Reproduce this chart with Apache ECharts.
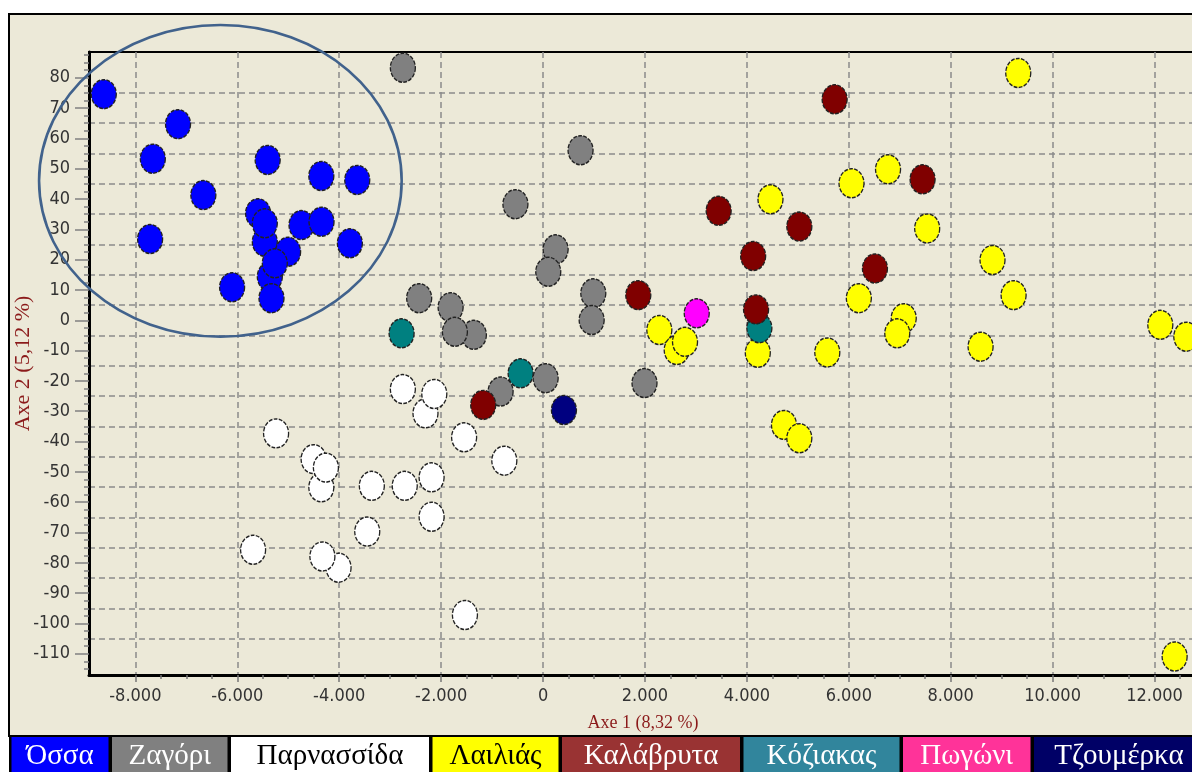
<!DOCTYPE html>
<html>
<head>
<meta charset="utf-8">
<script src="https://cdn.jsdelivr.net/npm/echarts@6/dist/echarts.min.js"></script>
<style>
html,body{margin:0;padding:0;background:#fff;}
#c{width:1192px;height:772px;}
</style>
</head>
<body>
<div id="c"></div>
<script>
// ---------- data ----------
const groups = ['Όσσα','Ζαγόρι','Παρνασσίδα','Λαιλιάς','Καλάβρυτα','Κόζιακας','Πωγώνι','Τζουμέρκα'];
const ossa = [[-8620,74.6],[-7163,64.7],[-7658,53.3],[-6666,41.3],[-7711,26.8],[-5404,52.9],[-4351,47.6],[-3646,46.3],[-5592,35.3],[-5460,25.9],[-5460,32.0],[-4740,31.4],[-4347,32.5],[-3791,25.4],[-5362,14.4],[-5003,22.6],[-5264,18.8],[-6102,10.9],[-5329,7.3]];
const zagori = [[-2751,83.3],[736,56.1],[-542,38.3],[247,23.4],[102,16.0],[-2431,7.3],[-1814,4.3],[-1357,-4.8],[-1730,-3.8],[986,8.9],[954,0.1],[51,-19.1],[-833,-23.5],[1991,-20.7]];
const parnassida = [[-2751,-22.7],[-2307,-30.7],[-2134,-24.3],[-1549,-38.6],[-760,-46.3],[-5239,-37.3],[-4502,-45.8],[-4351,-55.1],[-4261,-48.6],[-3360,-54.6],[-2714,-54.6],[-2187,-51.8],[-2187,-64.8],[-3450,-69.7],[-5690,-75.7],[-4013,-81.6],[-4330,-77.9],[-1533,-97.2]];
const lailias = [[9325,81.6],[6770,49.8],[6053,45.2],[4463,39.9],[7538,30.3],[8820,19.9],[9234,8.3],[6197,7.3],[7078,0.7],[6951,-4.3],[2282,-3.2],[2623,-9.8],[2786,-7.1],[4214,-10.7],[5578,-10.6],[8586,-8.7],[12113,-1.5],[12623,-5.4],[4728,-34.5],[5029,-38.9],[12394,-110.9]];
const kalavryta = [[-1174,-27.9],[5722,72.9],[3446,36.1],[5029,30.9],[7448,46.5],[4123,21.2],[6513,17.1],[1869,8.3],[4180,3.6]];
const koziakas = [[-2776,-4.3],[-440,-17.5],[4245,-2.6]];
const pogoni = [[3016,2.3]];
const tzoumerka = [[410,-29.6]];

const xTicks = [-8000,-6000,-4000,-2000,0,2000,4000,6000,8000,10000,12000];
const yTicks = [-110,-100,-90,-80,-70,-60,-50,-40,-30,-20,-10,0,10,20,30,40,50,60,70,80];
const yGridLines = [-105,-95,-85,-75,-65,-55,-45,-35,-25,-15,-5,5,15,25,35,45,55,65,75];
const xTitle = 'Axe 1 (8,32 %)';
const yTitle = 'Axe 2 (5,12 %)';
// highlighted group (ellipse) in data units: centre x, centre y, radius x, radius y
const ring = [-6332, 46.0, 3558, 51.4];

// ---------- styling ----------
const markerColors = ['#0000FF','#808080','#FFFFFF','#FFFF00','#800000','#008080','#FF00FF','#000080'];
const legendBg = ['#0000FF','#808080','#FFFFFF','#FFFF00','#993333','#31859C','#FF3399','#000066'];
const legendFg = ['#FFFFFF','#FFFFFF','#000000','#000000','#FFFFFF','#FFFFFF','#FFFFFF','#FFFFFF'];
const legendBoxW = [97, 115.5, 198, 126, 178, 156, 127.5, 170];
const groupData = [ossa, zagori, parnassida, lailias, kalavryta, koziakas, pogoni, tzoumerka];
const drawOrder = [0,1,2,3,5,4,6,7];

const xMinor = []; for (let v = -7500; v <= 12500; v += 500) if (v % 2000 !== 0) xMinor.push(v);
const yMinor = []; for (let v = -115; v <= 87.5; v += 2.5) if (Math.abs(v % 10) > 1e-9) yMinor.push(v);

function fmt(v) {
  const s = Math.abs(Math.round(v)).toString().replace(/\B(?=(\d{3})+(?!\d))/g, '.');
  return (v < 0 ? '-' : '') + s;
}

const X0 = -8910, X1 = 12833, Y0 = -117, Y1 = 88.5;
const tickFont = "'Liberation Sans Narrow', 'DejaVu Sans Condensed', 'Liberation Sans', sans-serif";
const serif = "'Liberation Serif', 'DejaVu Serif', serif";

const chart = echarts.init(document.getElementById('c'), null, {renderer: 'canvas', width: 1192, height: 772});

const series = drawOrder.map(i => ({
  name: groups[i],
  type: 'scatter',
  xAxisIndex: 0, yAxisIndex: 0,
  data: groupData[i],
  symbol: 'circle',
  symbolSize: [25, 29],
  itemStyle: {color: markerColors[i], borderColor: '#222', borderWidth: 1.4, borderType: [4, 1.5], opacity: 1},
  emphasis: {disabled: true}
}));

const rich = {};
groups.forEach((g, i) => {
  rich['g' + i] = {
    width: legendBoxW[i], height: 38, lineHeight: 38, align: 'center', verticalAlign: 'top',
    backgroundColor: legendBg[i], color: legendFg[i],
    fontFamily: serif, fontSize: 29
  };
});

const option = {
  animation: false,
  backgroundColor: '#FFFFFF',
  grid: {left: 89, top: 52, width: 1108, height: 623, outerBoundsMode: 'none', containLabel: false,
         show: true, backgroundColor: '#ECE9D8', borderColor: '#000', borderWidth: 2},
  xAxis: [
    {
      type: 'value', min: X0, max: X1, position: 'bottom',
      axisLine: {onZero: false, lineStyle: {color: '#000', width: 3}},
      axisTick: {customValues: xTicks, length: 7, lineStyle: {color: '#777', width: 1.5}},
      axisLabel: {customValues: xTicks, formatter: fmt, margin: 12, color: '#333', fontFamily: tickFont, fontSize: 18},
      splitLine: {show: true, lineStyle: {color: '#8a8a8a', type: [6, 4], width: 1.5}},
      name: xTitle, nameLocation: 'middle', nameGap: 39, nameMoveOverlap: false,
      nameTextStyle: {color: '#8B1A1A', fontFamily: serif, fontSize: 18}
    },
    {
      type: 'value', min: X0, max: X1, position: 'bottom',
      axisLine: {show: false, onZero: false},
      axisTick: {customValues: xMinor, length: 4, lineStyle: {color: '#777', width: 1.5}},
      axisLabel: {show: false}, splitLine: {show: false}
    }
  ],
  yAxis: [
    {
      type: 'value', min: Y0, max: Y1, position: 'left',
      axisLine: {onZero: false, lineStyle: {color: '#000', width: 3}},
      axisTick: {customValues: yTicks, length: 14, lineStyle: {color: '#808080', width: 1.5}},
      axisLabel: {customValues: yTicks, margin: 19, color: '#333', fontFamily: tickFont, fontSize: 18},
      splitLine: {show: false},
      name: yTitle, nameLocation: 'middle', nameGap: 55, nameMoveOverlap: false,
      nameTextStyle: {color: '#8B1A1A', fontFamily: serif, fontSize: 22}
    },
    {
      type: 'value', min: Y0, max: Y1, position: 'left',
      axisLine: {show: false, onZero: false},
      axisTick: {show: false, customValues: yGridLines},
      axisLabel: {show: false},
      splitLine: {show: true, lineStyle: {color: '#8a8a8a', type: [6, 4], width: 1.5}}
    },
    {
      type: 'value', min: Y0, max: Y1, position: 'left',
      axisLine: {show: false, onZero: false},
      axisTick: {customValues: yMinor, length: 5, lineStyle: {color: '#808080', width: 1.5}},
      axisLabel: {show: false}, splitLine: {show: false}
    }
  ],
  legend: {
    left: 6.5, top: 737, width: 1400, padding: 0, itemGap: -1.5,
    itemWidth: 0, itemHeight: 0, icon: 'rect',
    itemStyle: {opacity: 0, borderWidth: 0},
    selectedMode: false,
    formatter: name => '{g' + groups.indexOf(name) + '|' + name + '}',
    textStyle: {fontFamily: serif, fontSize: 29, rich: rich},
    data: groups
  },
  graphic: [
    {id: 'frame', type: 'rect', z: -10, silent: true,
     shape: {x: 9, y: 14, width: 1250, height: 722},
     style: {fill: '#ECE9D8', stroke: '#000', lineWidth: 2}},
    {id: 'legendStrip', type: 'rect', z: -9, silent: true,
     shape: {x: 9, y: 735, width: 1250, height: 50},
     style: {fill: '#000'}}
  ],
  series: series
};
chart.setOption(option);

const c0 = chart.convertToPixel({seriesIndex: 0}, [ring[0], ring[1]]);
const c1 = chart.convertToPixel({seriesIndex: 0}, [ring[0] + ring[2], ring[1] + ring[3]]);
chart.setOption({
  graphic: [
    {id: 'frame'}, {id: 'legendStrip'},
    {id: 'ring', type: 'ellipse', z: 100, silent: true,
     shape: {cx: c0[0], cy: c0[1], rx: Math.abs(c1[0] - c0[0]), ry: Math.abs(c0[1] - c1[1])},
     style: {fill: 'none', stroke: '#41628C', lineWidth: 2.6}}
  ]
});
</script>
</body>
</html>
